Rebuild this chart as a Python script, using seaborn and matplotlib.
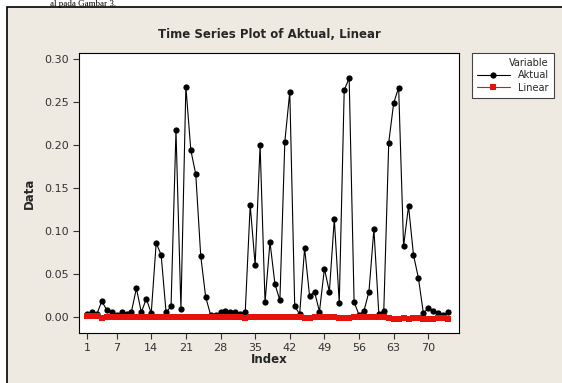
import matplotlib
matplotlib.use('Agg')
import numpy as np
import pandas as pd
import seaborn as sns
from matplotlib import pyplot as plt
from matplotlib.patches import Rectangle

# values, index 1..74
aktual = [0.003, 0.005, 0.003, 0.018, 0.008, 0.006, 0.002, 0.005, 0.003, 0.006,
          0.033, 0.005, 0.021, 0.004, 0.086, 0.072, 0.005, 0.012, 0.217, 0.009,
          0.268, 0.194, 0.166, 0.071, 0.023, 0.002, 0.002, 0.005, 0.007, 0.005,
          0.005, 0.003, 0.006, 0.130, 0.060, 0.200, 0.017, 0.087, 0.038, 0.019,
          0.204, 0.262, 0.012, 0.003, 0.080, 0.024, 0.029, 0.006, 0.056, 0.029,
          0.114, 0.016, 0.264, 0.278, 0.017, 0.002, 0.007, 0.029, 0.102, 0.003,
          0.007, 0.203, 0.249, 0.267, 0.082, 0.129, 0.072, 0.045, 0.004, 0.010,
          0.007, 0.004, 0.002, 0.005]
linear = [0.0005, 0.0005, 0.0005, -0.0015, -0.0005, -0.0005, -0.0005, -0.0005, -0.0003, -0.0003,
          -0.0003, -0.0003, -0.0003, -0.0003, 0.0, 0.0, 0.0, 0.0, 0.0, 0.0,
          0.0, 0.0, 0.0, 0.0, 0.0, 0.0, 0.0, 0.0, 0.0, 0.0,
          0.0, -0.0005, -0.001, 0.0, 0.0, 0.0, 0.0, 0.0, 0.0, 0.0,
          0.0, 0.0, 0.0, 0.0, -0.0015, -0.0015, -0.0005, 0.0, 0.0, 0.0,
          -0.0005, -0.001, -0.0015, -0.002, -0.0005, 0.0, 0.0, 0.0, 0.0, 0.0,
          0.0, -0.002, -0.003, -0.003, -0.002, -0.003, -0.002, -0.002, -0.0025, -0.003,
          -0.003, -0.002, -0.002, -0.003]
index = list(range(1, len(aktual) + 1))
xticks = [1, 7, 14, 21, 28, 35, 42, 49, 56, 63, 70]
yticks = [0.00, 0.05, 0.10, 0.15, 0.20, 0.25, 0.30]

df = pd.DataFrame({
    'Index': index + index,
    'Data': aktual + linear,
    'Variable': ['Aktual'] * len(aktual) + ['Linear'] * len(linear),
})

sns.set_style('white')
plt.rcParams['font.family'] = ['DejaVu Sans']

W, H = 562, 383
fig = plt.figure(figsize=(W / 100, H / 100), dpi=100, facecolor='white')

# grey minitab panel
fig.patches.append(Rectangle((7 / W, -0.01), 1.0, 1 - 7 / H + 0.01, transform=fig.transFigure,
                             facecolor='#EEEAE1', edgecolor='black', linewidth=1.2, zorder=-10))
fig.text(50 / W, 1 - 0.5 / H, 'al pada Gambar 3.', family='Liberation Serif', fontsize=6.5,
         va='top', ha='left', color='black')

ax = fig.add_axes([79 / W, 1 - 333 / H, (459 - 79) / W, (333 - 53) / H])
ax.set_facecolor('white')

sns.lineplot(data=df, x='Index', y='Data', hue='Variable', style='Variable',
             markers=['o', 's'], dashes=False, palette=['black', '#E8120C'],
             markersize=4.5, markeredgewidth=0, linewidth=0.8, ax=ax)

ax.set_xlim(-0.6, 76.2)
ax.set_ylim(-0.019, 0.3073)
ax.set_xticks(xticks)
ax.set_yticks(yticks)
ax.set_yticklabels(['%.2f' % v for v in yticks])
ax.tick_params(axis='both', direction='out', length=4, width=0.8, colors='#333333',
               labelsize=8, labelcolor='#333333', bottom=True, left=True)
for s in ax.spines.values():
    s.set_color('black')
    s.set_linewidth(0.8)

ax.set_xlabel('Index', fontsize=8.5, fontweight='bold', labelpad=0)
ax.set_ylabel('Data', fontsize=8.5, fontweight='bold', labelpad=6)
fig.text((79 + 459) / 2 / W, 1 - 34 / H, 'Time Series Plot of Aktual, Linear',
         ha='center', va='center', fontsize=8.5, fontweight='bold')

handles, labels = ax.get_legend_handles_labels()
lgd = ax.legend(handles, labels, title='Variable', loc='upper left',
                bbox_to_anchor=(472 / W, 1 - 53 / H), bbox_transform=fig.transFigure,
                fontsize=7, title_fontsize=7, frameon=True, fancybox=False,
                edgecolor='#444444', framealpha=1, borderpad=0.5, handlelength=3.4,
                labelspacing=0.25, borderaxespad=0)
lgd._legend_box.align = 'right'
lgd.get_frame().set_linewidth(0.8)

fig.savefig('out.png', dpi=100, facecolor='white')
